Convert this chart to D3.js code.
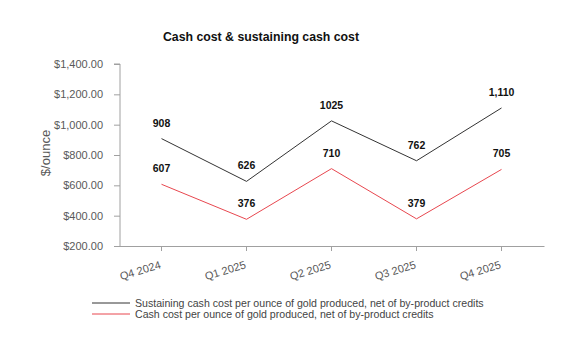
<!DOCTYPE html>
<html><head><meta charset="utf-8">
<script src="https://cdn.jsdelivr.net/npm/d3@7"></script>
<style>body{margin:0;background:#fff}svg{display:block}</style>
</head><body>
<script>
const categories = ["Q4 2024","Q1 2025","Q2 2025","Q3 2025","Q4 2025"];
const sustaining = [908, 626, 1025, 762, 1110];
const sustainingLabels = ["908","626","1025","762","1,110"];
const cashCost = [607, 376, 710, 379, 705];
const cashCostLabels = ["607","376","710","379","705"];
const yTicks = [200,400,600,800,1000,1200,1400];
const seriesNames = ["Sustaining cash cost per ounce of gold produced, net of by-product credits","Cash cost per ounce of gold produced, net of by-product credits"];

const W=576,H=356;
const svg=d3.select("body").append("svg").attr("width",W).attr("height",H);
const font="Liberation Sans, Arial, sans-serif";
const x=d3.scaleBand().domain(categories).range([119,544]);
const y=d3.scaleLinear().domain([200,1400]).range([246,64]);
const cx=d=>x(d)+x.bandwidth()/2;

svg.append("text").attr("x",261).attr("y",41).attr("text-anchor","middle")
  .attr("font-family",font).attr("font-weight","bold").attr("font-size",12.3).attr("fill","#111")
  .text("Cash cost & sustaining cash cost");

// y axis
const ya=svg.append("g").attr("transform","translate(120,0)")
  .call(d3.axisLeft(y).tickValues(yTicks).tickSize(6).tickPadding(11).tickFormat(d=>"$"+d3.format(",.2f")(d)));
ya.select(".domain").attr("stroke","#a0a0a0").attr("d","M-6,"+y(1400)+"H0V"+y(200));
ya.selectAll(".tick line").attr("stroke","#a0a0a0");
ya.selectAll("text").attr("font-family",font).attr("font-size",11).attr("fill","#595959");

// x axis
const xa=svg.append("g").attr("transform","translate(0,246)")
  .call(d3.axisBottom(x).tickSize(5).tickSizeOuter(0));
xa.select(".domain").attr("stroke","#a0a0a0");
xa.selectAll(".tick line").attr("stroke","#a0a0a0");
xa.selectAll("text").attr("font-family",font).attr("font-size",11).attr("fill","#595959")
  .attr("text-anchor","end").attr("dy",0).attr("y",0)
  .attr("transform","translate(0,22) rotate(-17)");

svg.append("text").attr("transform","translate(50,153) rotate(-90)").attr("text-anchor","middle")
  .attr("font-family",font).attr("font-size",13).attr("fill","#595959").text("$/ounce");

const line=d3.line().x((d,i)=>cx(categories[i])).y(d=>y(d));
const series=[{v:sustaining,l:sustainingLabels,c:"#333333"},{v:cashCost,l:cashCostLabels,c:"#e8474f"}];
series.forEach(s=>{
  svg.append("path").attr("d",line(s.v)).attr("fill","none").attr("stroke",s.c).attr("stroke-width",1);
  svg.selectAll(null).data(s.v).enter().append("text")
    .attr("x",(d,i)=>cx(categories[i])).attr("y",d=>y(d)-12)
    .attr("text-anchor","middle").attr("font-family",font).attr("font-weight","bold")
    .attr("font-size",10.5).attr("fill","#111").text((d,i)=>s.l[i]);
});

// legend
series.forEach((s,i)=>{
  const ly=303+i*11;
  svg.append("line").attr("x1",92).attr("x2",130).attr("y1",ly).attr("y2",ly).attr("stroke",s.c).attr("stroke-width",1);
  svg.append("text").attr("x",135).attr("y",ly+4).attr("font-family",font).attr("font-size",10.6)
    .attr("fill","#444").text(seriesNames[i]);
});
</script>
</body></html>
